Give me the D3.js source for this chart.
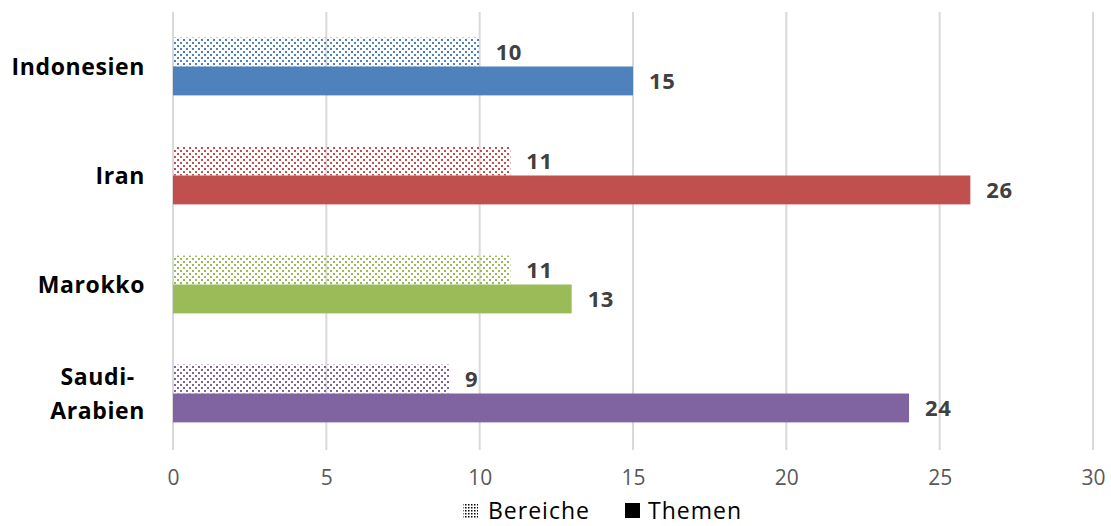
<!DOCTYPE html>
<html><head><meta charset="utf-8">
<script src="https://cdn.jsdelivr.net/npm/d3@7"></script>
<style>body{margin:0;background:#fff}svg{display:block}</style>
</head><body>
<svg id="c" width="1111" height="526"></svg>
<script>
const categories = ["Indonesien", "Iran", "Marokko", "Saudi-Arabien"];
const bereiche = [10, 11, 11, 9];
const themen = [15, 26, 13, 24];
const colors = ["#4F81BD", "#C0504D", "#9BBB59", "#8064A2"];
const xTicks = [0, 5, 10, 15, 20, 25, 30];
const seriesNames = ["Bereiche", "Themen"];

(function () {
const svg = d3.select("#c");
const font = "'Open Sans', sans-serif";
const pL = 173, pR = 1093, pT = 12, pB = 448;
const x = d3.scaleLinear().domain([0, 30]).range([pL, pR]);
const y = d3.scaleBand().domain(categories).range([pT, pB]).paddingInner(0.47).paddingOuter(0.235);
const sub = d3.scaleBand().domain(seriesNames).range([0, y.bandwidth()]);

const defs = svg.append("defs");
colors.forEach((c, i) => {
  const p = defs.append("pattern").attr("id", "pat" + i).attr("patternUnits", "userSpaceOnUse")
    .attr("width", 6).attr("height", 6);
  p.append("rect").attr("x", 0).attr("y", 0).attr("width", 2).attr("height", 2).attr("fill", c);
  p.append("rect").attr("x", 3).attr("y", 3).attr("width", 2).attr("height", 2).attr("fill", c);
});
const lp = defs.append("pattern").attr("id", "patL").attr("patternUnits", "userSpaceOnUse").attr("width", 3).attr("height", 3);
lp.append("rect").attr("width", 1.5).attr("height", 1.5).attr("fill", "#000");

svg.append("g").selectAll("line").data(xTicks).join("line")
  .attr("x1", d => x(d)).attr("x2", d => x(d)).attr("y1", pT).attr("y2", pB + 2)
  .attr("stroke", "#d9d9d9").attr("stroke-width", 2);

const ax = svg.append("g").attr("transform", `translate(0,${pB})`)
  .call(d3.axisBottom(x).tickValues(xTicks).tickSize(0).tickPadding(22));
ax.select(".domain").remove();
ax.selectAll("text").attr("font-family", font).attr("font-size", 21).attr("fill", "#595959");

const g = svg.append("g");
categories.forEach((cat, i) => {
  const y0 = y(cat);
  g.append("rect").attr("x", x(0)).attr("y", y0 + sub("Bereiche")).attr("width", x(bereiche[i]) - x(0))
    .attr("height", sub.bandwidth()).attr("fill", `url(#pat${i})`);
  g.append("rect").attr("x", x(0)).attr("y", y0 + sub("Themen")).attr("width", x(themen[i]) - x(0))
    .attr("height", sub.bandwidth()).attr("fill", colors[i]);
  [[bereiche[i], "Bereiche"], [themen[i], "Themen"]].forEach(([v, s]) => {
    g.append("text").attr("x", x(v) + 16).attr("y", y0 + sub(s) + sub.bandwidth() / 2)
      .attr("dy", "0.36em").attr("font-family", font).attr("font-weight", "bold")
      .attr("font-size", 22).attr("letter-spacing", 0.6).attr("fill", "#404040").text(v);
  });
});

categories.forEach(cat => {
  const cy = y(cat) + y.bandwidth() / 2;
  const lines = cat === "Saudi-Arabien" ? ["Saudi-", "Arabien"] : [cat];
  const t = svg.append("text").attr("font-family", font).attr("font-weight", "bold")
    .attr("font-size", 23).attr("letter-spacing", 0.6).attr("fill", "#000");
  if (lines.length === 1) {
    t.attr("x", 145).attr("y", cy).attr("dy", "0.36em").attr("text-anchor", "end").text(cat);
  } else {
    const tmp = svg.append("text").attr("font-family", font).attr("font-weight", "bold").attr("font-size", 23)
      .attr("letter-spacing", 0.6).text(lines[1]);
    const w = tmp.node().getComputedTextLength(); tmp.remove();
    const cx = 145 - w / 2;
    lines.forEach((l, k) => {
      t.append("tspan").attr("x", cx).attr("y", cy + (k - 0.5) * 34).attr("dy", "0.36em")
        .attr("text-anchor", "middle").text(l);
    });
  }
});

const leg = svg.append("g").attr("font-family", font).attr("font-size", 23).attr("letter-spacing", 1).attr("fill", "#000");
leg.append("rect").attr("x", 463).attr("y", 503).attr("width", 15).attr("height", 15).attr("fill", "url(#patL)");
leg.append("text").attr("x", 488).attr("y", 519).text(seriesNames[0]);
leg.append("rect").attr("x", 625).attr("y", 503).attr("width", 15).attr("height", 15).attr("fill", "#000");
leg.append("text").attr("x", 648).attr("y", 519).text(seriesNames[1]);
})();
</script>
</body></html>
